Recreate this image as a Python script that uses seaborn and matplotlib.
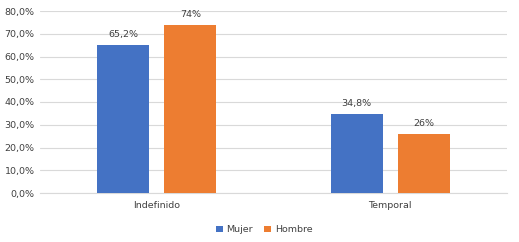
import matplotlib
matplotlib.use('Agg')
import matplotlib.pyplot as plt
import pandas as pd
import seaborn as sns
from matplotlib.ticker import FuncFormatter

# data
contratos = ['Indefinido', 'Temporal']
mujer = [65.2, 34.8]
hombre = [74.0, 26.0]
etiquetas_mujer = ['65,2%', '34,8%']
etiquetas_hombre = ['74%', '26%']

df = pd.DataFrame({
    'contrato': contratos * 2,
    'sexo': ['Mujer'] * 2 + ['Hombre'] * 2,
    'valor': mujer + hombre,
})

sns.set_style('white')
plt.rcParams['font.family'] = ['DejaVu Sans']

fig = plt.figure(figsize=(5.19, 2.42), dpi=100)
ax = fig.add_axes([40 / 519, 1 - 193 / 242, 467 / 519, 182 / 242])

sns.barplot(
    data=df, x='contrato', y='valor', hue='sexo',
    palette={'Mujer': '#4472C4', 'Hombre': '#ED7D31'},
    width=0.575, gap=0.22, ax=ax, zorder=3, saturation=1, linewidth=0,
)

# value labels
for cont, labels in zip(ax.containers, [etiquetas_mujer, etiquetas_hombre]):
    ax.bar_label(cont, labels=labels, padding=4, fontsize=6.8, color='#404040')

ax.set_ylim(0, 80)
ax.set_yticks(range(0, 81, 10))
ax.yaxis.set_major_formatter(FuncFormatter(lambda v, p: f'{v:.1f}%'.replace('.', ',')))
ax.grid(axis='y', color='#D9D9D9', linewidth=0.8, zorder=0)
ax.set_xlim(-0.5, 1.5)
for s in ['top', 'right', 'left']:
    ax.spines[s].set_visible(False)
ax.spines['bottom'].set_color('#D9D9D9')
ax.tick_params(axis='both', length=0, labelsize=6.8, colors='#404040', pad=6)
ax.tick_params(axis='y', pad=4)
ax.set_xlabel('')
ax.set_ylabel('')

ax.legend(loc='upper center', bbox_to_anchor=(0.48, -0.13), ncol=2, frameon=False,
          fontsize=6.8, handlelength=0.7, handleheight=0.7, handletextpad=0.4,
          columnspacing=1.2, labelcolor='#404040')

fig.savefig('out.png', dpi=100)
